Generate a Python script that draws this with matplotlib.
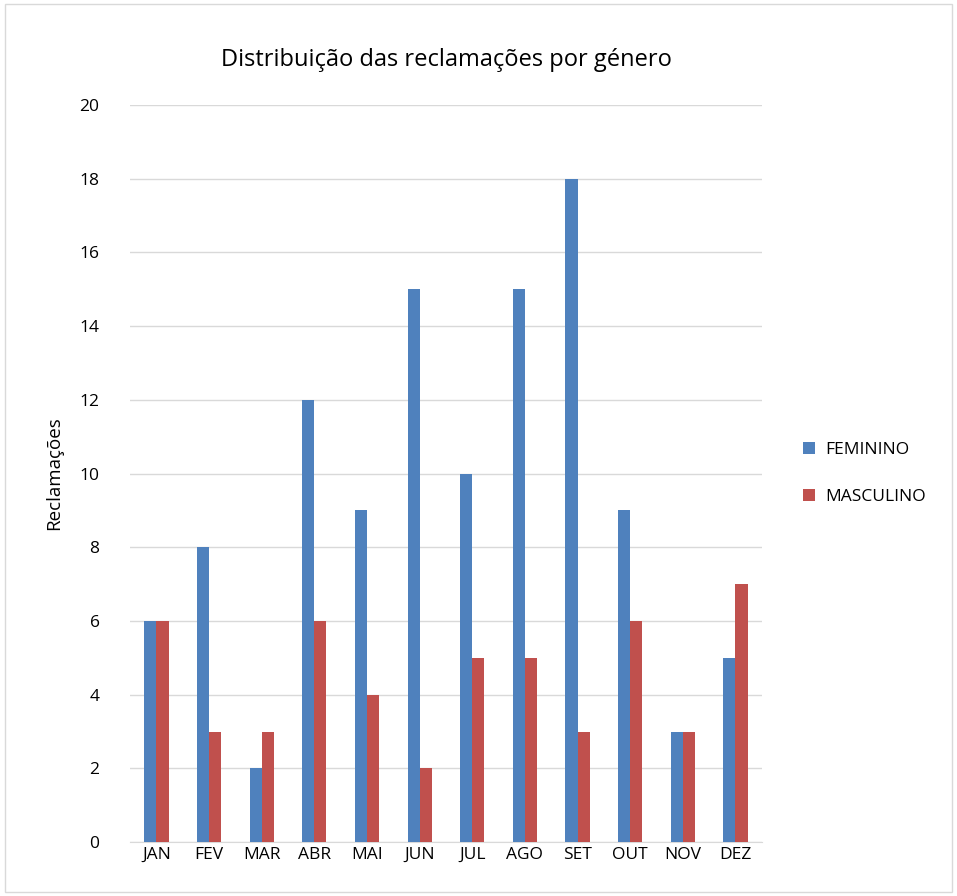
import matplotlib
matplotlib.use("Agg")
import matplotlib.pyplot as plt
from matplotlib.patches import Rectangle
import numpy as np

plt.rcParams['font.family'] = ['Open Sans', 'DejaVu Sans']

months = ['JAN', 'FEV', 'MAR', 'ABR', 'MAI', 'JUN', 'JUL', 'AGO', 'SET', 'OUT', 'NOV', 'DEZ']
feminino = [6, 8, 2, 12, 9, 15, 10, 15, 18, 9, 3, 5]
masculino = [6, 3, 3, 6, 4, 2, 5, 5, 3, 6, 3, 7]

fig = plt.figure(figsize=(9.57, 8.96), dpi=100)
fig.patches.append(Rectangle((0.005, 0.005), 0.99, 0.99, transform=fig.transFigure,
                             fill=False, edgecolor='#d9d9d9', linewidth=1))
ax = fig.add_axes([0.136, 0.060, 0.660, 0.823])

x = np.arange(len(months))
w = 0.23
ax.bar(x - w / 2, feminino, w, color='#4F81BD', label='FEMININO', zorder=3)
ax.bar(x + w / 2, masculino, w, color='#C0504D', label='MASCULINO', zorder=3)

ax.set_xlim(-0.5, len(months) - 0.5)
ax.set_ylim(0, 20)
ax.set_yticks(range(0, 21, 2))
ax.set_xticks(x)
ax.set_xticklabels(months)
ax.tick_params(length=0, labelsize=12.5, colors='#000000')
ax.tick_params(axis='y', pad=22)
ax.grid(axis='y', color='#d9d9d9', linewidth=1, zorder=0)
for s in ['top', 'right', 'left']:
    ax.spines[s].set_visible(False)
ax.spines['bottom'].set_color('#d9d9d9')
ax.set_ylabel('Reclamações', fontsize=13.5, labelpad=12)
ax.set_title('Distribuição das reclamações por género', fontsize=17, pad=28)

ax.legend(loc='center left', bbox_to_anchor=(1.04, 0.5), frameon=False, fontsize=12.5,
          handlelength=0.7, handleheight=0.7, labelspacing=1.8, handletextpad=0.6)

fig.savefig('out.png', dpi=100)
